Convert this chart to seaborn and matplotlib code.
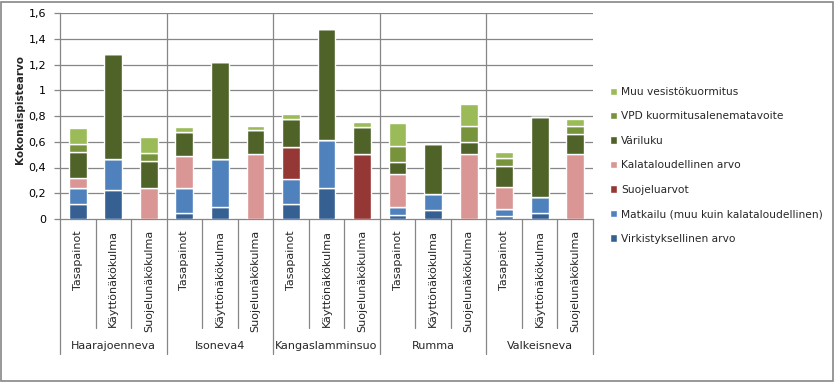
import matplotlib
matplotlib.use("Agg")
import matplotlib.pyplot as plt
import matplotlib.patches as mpatches
import matplotlib.transforms as mtransforms
import seaborn as sns
import numpy as np
import pandas as pd

groups = ["Haarajoenneva", "Isoneva4", "Kangaslamminsuo", "Rumma", "Valkeisneva"]
views = ["Tasapainot", "Käyttönäkökulma", "Suojelunäkökulma"]

virkistys = [0.115, 0.223, 0.0, 0.047, 0.096, 0.0, 0.114, 0.239, 0.0, 0.029, 0.067, 0.0, 0.021, 0.047, 0.0]
matkailu = [0.125, 0.246, 0.0, 0.192, 0.373, 0.0, 0.195, 0.373, 0.0, 0.062, 0.125, 0.0, 0.059, 0.122, 0.0]
suojelu = [0.0, 0.0, 0.0, 0.0, 0.0, 0.0, 0.249, 0.0, 0.503, 0.0, 0.0, 0.0, 0.0, 0.0, 0.0]
kala = [0.077, 0.0, 0.244, 0.249, 0.0, 0.503, 0.0, 0.0, 0.0, 0.257, 0.0, 0.503, 0.166, 0.0, 0.503]
variluku = [0.203, 0.810, 0.205, 0.186, 0.747, 0.187, 0.217, 0.861, 0.210, 0.093, 0.394, 0.093, 0.164, 0.627, 0.156]
vpd = [0.062, 0.0, 0.062, 0.0, 0.0, 0.0, 0.0, 0.0, 0.0, 0.124, 0.0, 0.125, 0.062, 0.0, 0.062]
muu = [0.122, 0.0, 0.124, 0.044, 0.0, 0.036, 0.037, 0.0, 0.044, 0.177, 0.0, 0.176, 0.052, 0.0, 0.052]

series_names = ["Virkistyksellinen arvo", "Matkailu (muu kuin kalataloudellinen)", "Suojeluarvot",
                "Kalataloudellinen arvo", "Väriluku", "VPD kuormitusalenematavoite", "Muu vesistökuormitus"]
series_vals = [virkistys, matkailu, suojelu, kala, variluku, vpd, muu]
colors = ["#376092", "#4F81BD", "#953735", "#D99694", "#4F6228", "#77933C", "#9BBB59"]

yticks = [0, 0.2, 0.4, 0.6, 0.8, 1.0, 1.2, 1.4, 1.6]
ytick_labels = ["0", "0,2", "0,4", "0,6", "0,8", "1", "1,2", "1,4", "1,6"]

sns.set_theme(style="white")
plt.rcParams["font.family"] = ["DejaVu Sans"]

W, H = 835, 382
fig = plt.figure(figsize=(W / 100, H / 100), dpi=100)
x0, x1, ytop, ybot = 60, 593, 13, 219
ax = fig.add_axes([x0 / W, 1 - ybot / H, (x1 - x0) / W, (ybot - ytop) / H])

bar_ids = [f"{g}|{v}" for g in groups for v in views]
bottom = np.zeros(len(bar_ids))
for name, vals, col in zip(series_names, series_vals, colors):
    df = pd.DataFrame({"bar": bar_ids, "value": vals})
    sns.barplot(data=df, x="bar", y="value", order=bar_ids, color=col, width=0.5,
                bottom=bottom.copy(), errorbar=None, saturation=1,
                edgecolor="white", linewidth=1.0, ax=ax, zorder=3)
    bottom += np.array(vals)

ax.set_xlim(-0.5, len(bar_ids) - 0.5)
ax.set_ylim(0, 1.6)
ax.set_yticks(yticks)
ax.set_yticklabels(ytick_labels, fontsize=8)
ax.set_xticks([])
ax.set_xlabel("")
ax.set_ylabel("")
grid_c = "#868686"
for y in yticks[1:]:
    ax.axhline(y, color=grid_c, lw=0.9, zorder=1)
for gx in [2.5, 5.5, 8.5, 11.5]:
    ax.axvline(gx, color=grid_c, lw=0.9, zorder=1)
for side in ["top", "right"]:
    ax.spines[side].set_visible(False)
for side in ["left", "bottom"]:
    ax.spines[side].set_color(grid_c)
    ax.spines[side].set_linewidth(0.9)
ax.tick_params(axis="y", which="major", left=True, length=4, width=0.9, color=grid_c, pad=6, labelcolor="black")

fig.text(20 / W, 1 - 110 / H, "Kokonaispistearvo", rotation=90, ha="center", va="center",
         fontsize=7.5, fontweight="bold")

# category axis labels
trans = mtransforms.blended_transform_factory(ax.transData, ax.transAxes)
ph = ybot - ytop
def fy(py):
    return (ybot - py) / ph

for i, bid in enumerate(bar_ids):
    g, v = bid.split("|")
    ax.text(i, fy(230), v, rotation=90, ha="center", va="top", fontsize=8, transform=trans, clip_on=False)
for k in range(len(bar_ids) + 1):
    xpos = k - 0.5
    if k % 3 == 0:
        ax.plot([xpos, xpos], [0, fy(354)], color=grid_c, lw=0.9, transform=trans, clip_on=False)
    else:
        ax.plot([xpos, xpos], [0, fy(328)], color=grid_c, lw=0.9, transform=trans, clip_on=False)
for j, g in enumerate(groups):
    ax.text(3 * j + 1, fy(346), g, ha="center", va="center", fontsize=8, transform=trans, clip_on=False)

handles = [mpatches.Patch(facecolor=c, edgecolor="white", label=n) for n, c in zip(series_names, colors)][::-1]
fig.legend(handles=handles, loc="upper left", bbox_to_anchor=(610 / W, 1 - 87 / H), frameon=False,
           fontsize=7.7, handlelength=0.7, handleheight=0.7, handletextpad=0.35, labelspacing=1.35,
           borderaxespad=0, borderpad=0)

fig.add_artist(mpatches.Rectangle((0.5 / W, 1.5 / H), (W - 2.5) / W, (H - 3) / H, transform=fig.transFigure,
                                  fill=False, edgecolor=grid_c, lw=1.2))
fig.savefig("out.png", dpi=100)
